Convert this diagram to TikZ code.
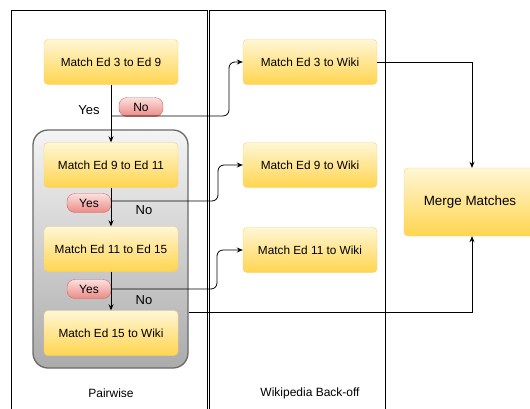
\documentclass[tikz,border=0pt]{standalone}
\usepackage{fontspec}
\setmainfont{Liberation Sans}
\usetikzlibrary{arrows.meta,positioning,calc}

\definecolor{boxtop}{HTML}{FFF6D5}
\definecolor{boxbot}{HTML}{FFD54F}
\definecolor{boxline}{HTML}{F2D27A}
\definecolor{pilltop}{HTML}{FBE0DE}
\definecolor{pillbot}{HTML}{EC8A86}
\definecolor{pillline}{HTML}{D06A66}
\definecolor{grouptop}{HTML}{F4F4F4}
\definecolor{groupbot}{HTML}{ABABAB}
\definecolor{groupline}{HTML}{6A6A6A}

\tikzset{
	x=1pt, y=-1pt,
	>={Stealth[length=6pt,width=5pt]},
	matchbox/.style = {
			rectangle, rounded corners=4pt,
			draw=boxline, top color=boxtop, bottom color=boxbot,
			minimum width=134pt, minimum height=45pt,
			inner sep=0pt,
			font=\fontsize{11.8}{13}\selectfont,
		},
	pill/.style = {
			rectangle, rounded corners=8pt,
			draw=pillline, top color=pilltop, bottom color=pillbot,
			minimum width=44pt, minimum height=19pt, inner sep=0pt,
			font=\fontsize{12}{13}\selectfont,
		},
	group/.style = {
			rectangle, rounded corners=15pt,
			draw=groupline, line width=1.3pt,
			top color=grouptop, bottom color=groupbot,
			minimum width=155pt, minimum height=238pt, inner sep=0pt,
		},
	flow/.style = {draw=black, line width=0.8pt, rounded corners=6pt},
	lane/.style = {draw=black, line width=0.8pt},
	lanelabel/.style = {font=\fontsize{12}{14}\selectfont},
	plainlabel/.style = {font=\fontsize{13}{15}\selectfont},
}

\begin{document}
\begin{tikzpicture}
\useasboundingbox (0,0) rectangle (530,408);

% swim lanes
\draw[lane] (11,410) |- (207,10) -- (207,410);
\draw[lane] (209,410) |- (385,10) -- (385,410);
\node[lanelabel] (pairwise) at (111,393) {Pairwise};
\node[lanelabel] (backoff) at (310,393) {Wikipedia Back-off};

% pairwise group
\node[group] (grp) at (110.5,249) {};
\node[matchbox] (e39)  at (111,62)  {Match Ed 3 to Ed 9};
\node[matchbox] (e911) at (111,165) {Match Ed 9 to Ed 11};
\node[matchbox] (e1115) at (111,249) {Match Ed 11 to Ed 15};
\node[matchbox] (e15w) at (111,333) {Match Ed 15 to Wiki};

% wiki back-off
\node[matchbox] (e3w)  at (310,62)  {Match Ed 3 to Wiki};
\node[matchbox] (e9w)  at (310,165) {Match Ed 9 to Wiki};
\node[matchbox] (e11w) at (310,250) {Match Ed 11 to Wiki};

\node[matchbox, minimum width=132pt, minimum height=68pt,
	font=\fontsize{13.4}{15}\selectfont] (merge) at (470,202) {Merge Matches};

% decisions
\node[plainlabel] (yes1) at (89,110) {Yes};
\node[pill] (no1) at (141,107) {No};
\node[pill] (yes2) at (89,203) {Yes};
\node[plainlabel] (no2) at (144,210) {No};
\node[pill] (yes3) at (89,289) {Yes};
\node[plainlabel] (no3) at (144,300) {No};

\coordinate (s1) at (111,116);
\coordinate (s2) at (111,201);
\coordinate (s3) at (111,289);

% connectors
\draw[->, flow] (e39.south) -- (e911.north);
\draw[->, flow] (e911.south) -- (e1115.north);
\draw[->, flow] (e1115.south) -- (e15w.north);

\draw[->, flow] (s1) -| (229,62) -- (e3w.west);
\draw[->, flow] (s2) -| (218,165) -- (e9w.west);
\draw[->, flow] (s3) -| (217,250) -- (e11w.west);

\draw[->, flow, rounded corners=0pt] (e3w.east) -| (merge.north -| 472,0);
\draw[->, flow, rounded corners=0pt] (grp.east |- 0,312) -| (merge.south -| 472,0);
\end{tikzpicture}
\end{document}
